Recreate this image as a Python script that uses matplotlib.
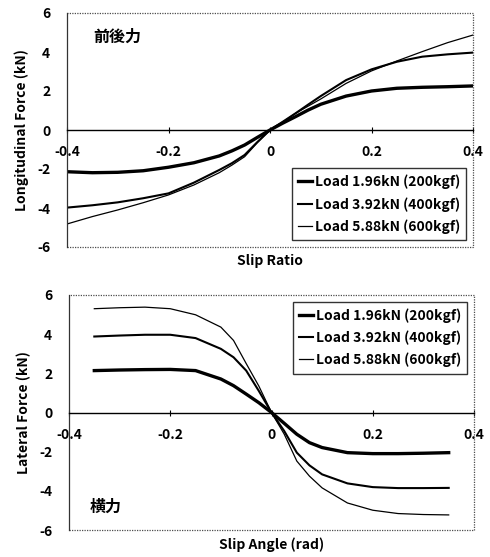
import matplotlib.pyplot as plt

plt.rcParams['font.family'] = ['Noto Sans CJK JP', 'DejaVu Sans']
plt.rcParams['font.weight'] = 'bold'

labels = ['Load 1.96kN (200kgf)', 'Load 3.92kN (400kgf)', 'Load 5.88kN (600kgf)']
widths = [2.4, 1.5, 0.9]

# longitudinal force vs slip ratio
slip = [-0.4, -0.35, -0.3, -0.25, -0.2, -0.15, -0.1, -0.075, -0.05, -0.025, 0.0,
        0.025, 0.05, 0.075, 0.1, 0.15, 0.2, 0.25, 0.3, 0.35, 0.4]
fx_196 = [-2.14, -2.19, -2.17, -2.09, -1.91, -1.68, -1.33, -1.07, -0.77, -0.38, 0.0,
          0.35, 0.68, 1.02, 1.32, 1.74, 2.0, 2.14, 2.19, 2.22, 2.26]
fx_392 = [-3.98, -3.86, -3.71, -3.5, -3.25, -2.7, -2.05, -1.7, -1.28, -0.62, 0.0,
          0.42, 0.85, 1.3, 1.74, 2.56, 3.11, 3.5, 3.76, 3.88, 3.97]
fx_588 = [-4.82, -4.44, -4.1, -3.73, -3.33, -2.82, -2.19, -1.8, -1.37, -0.65, 0.0,
          0.4, 0.85, 1.22, 1.59, 2.39, 3.03, 3.54, 4.02, 4.48, 4.87]

# lateral force vs slip angle
angle = [-0.35, -0.3, -0.25, -0.2, -0.15, -0.1, -0.075, -0.05, -0.025, 0.0,
         0.025, 0.05, 0.075, 0.1, 0.15, 0.2, 0.25, 0.3, 0.35]
fy_196 = [2.14, 2.17, 2.19, 2.2, 2.14, 1.71, 1.37, 0.94, 0.5, 0.0,
          -0.55, -1.11, -1.54, -1.79, -2.05, -2.1, -2.1, -2.08, -2.05]
fy_392 = [3.88, 3.93, 3.97, 3.97, 3.8, 3.25, 2.82, 2.14, 1.1, 0.0,
          -0.94, -2.05, -2.7, -3.16, -3.62, -3.81, -3.86, -3.86, -3.85]
fy_588 = [5.3, 5.35, 5.38, 5.3, 4.99, 4.36, 3.68, 2.5, 1.35, 0.0,
          -1.1, -2.48, -3.25, -3.85, -4.62, -4.99, -5.16, -5.21, -5.23]


def style_axes(ax, xlabel, ylabel):
    ax.set_xlim(-0.4, 0.4)
    ax.set_ylim(-6, 6)
    ax.set_xticks([-0.4, -0.2, 0, 0.2, 0.4])
    ax.set_xticklabels(['-0.4', '-0.2', '0', '0.2', '0.4'])
    ax.set_yticks([-6, -4, -2, 0, 2, 4, 6])
    ax.set_yticklabels(['-6', '-4', '-2', '0', '2', '4', '6'])
    for s in ['top', 'right', 'left']:
        ax.spines[s].set_visible(False)
    ax.spines['bottom'].set_position(('data', 0))
    ax.spines['bottom'].set_linewidth(1.0)
    # plot area border
    ax.plot([0, 1, 1, 0], [0, 0, 1, 1], transform=ax.transAxes, color='0.3',
            lw=0.9, ls=(0, (1, 1)), clip_on=False)
    ax.plot([0, 0], [0, 1], transform=ax.transAxes, color='0.2', lw=0.9,
            clip_on=False)
    ax.tick_params(axis='x', direction='inout', length=4, pad=9, labelsize=10)
    ax.tick_params(axis='y', direction='out', length=0, pad=12, labelsize=10)
    ax.set_xlabel(xlabel, fontsize=10, fontweight='bold')
    ax.xaxis.set_label_coords(0.5, -0.03)
    ax.set_ylabel(ylabel, fontsize=10, fontweight='bold', labelpad=6)


fig = plt.figure(figsize=(4.9, 5.57), dpi=100)
ax1 = fig.add_axes([67 / 490, 1 - 247 / 557, 406 / 490, 234 / 557])
ax2 = fig.add_axes([69 / 490, 1 - 530 / 557, 405 / 490, 235 / 557])

for y, lw, lab in zip([fx_196, fx_392, fx_588], widths, labels):
    ax1.plot(slip, y, color='black', lw=lw, label=lab)
for y, lw, lab in zip([fy_196, fy_392, fy_588], widths, labels):
    ax2.plot(angle, y, color='black', lw=lw, label=lab)

style_axes(ax1, 'Slip Ratio', 'Longitudinal Force (kN)')
style_axes(ax2, 'Slip Angle (rad)', 'Lateral Force (kN)')

ax1.text(0.065, 0.9, '前後力', transform=ax1.transAxes, fontsize=11.5,
         fontweight='bold', va='center')
ax2.text(0.05, 0.1, '横力', transform=ax2.transAxes, fontsize=11.5,
         fontweight='bold', va='center')

for ax, loc in [(ax1, 'lower right'), (ax2, 'upper right')]:
    leg = ax.legend(loc=loc, fontsize=10, frameon=True, fancybox=False,
                    handlelength=1.0, handletextpad=0.2, borderpad=0.45,
                    labelspacing=0.55, borderaxespad=0.5)
    leg.get_frame().set_edgecolor('black')
    leg.get_frame().set_linewidth(1.0)

fig.savefig('out.png', dpi=100)
